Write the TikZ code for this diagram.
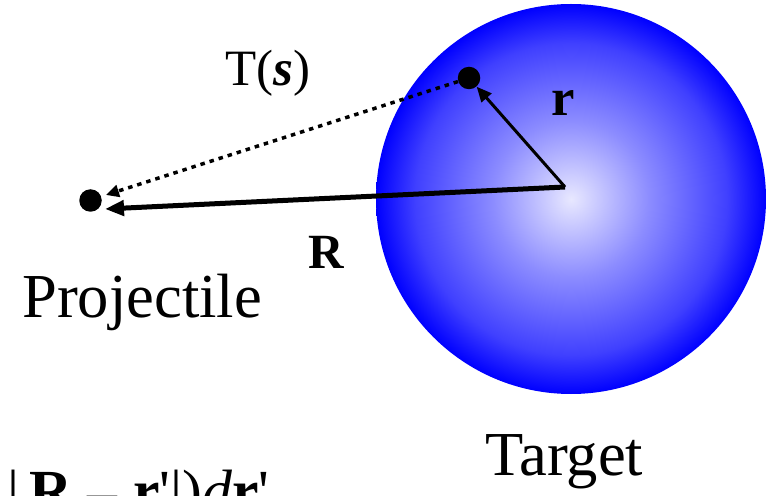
\documentclass[tikz,border=0pt]{standalone}
\usepackage{fontspec}
\setmainfont{Liberation Serif}
\usetikzlibrary{arrows.meta}
\pgfdeclareradialshading{targetball}{\pgfpoint{0bp}{0bp}}{color(0bp)=(blue!9); color(10bp)=(blue!45); color(20bp)=(blue!75); color(25bp)=(blue); color(50bp)=(blue)}
\tikzset{
  mass/.style={circle, fill=black, inner sep=0pt, minimum size=0.45cm},
  lbl/.style={inner sep=0pt, anchor=base west},
  bigfont/.style={font=\fontsize{35.6}{40}\selectfont},
  vecfont/.style={font=\fontsize{29}{32}\selectfont}
}
\begin{document}
\begin{tikzpicture}
\useasboundingbox (0,0) rectangle (15.34,9.9);
\shade[shading=targetball] (11.42,5.92) circle (3.9);
\node[mass] (proj) at (1.81,5.89) {};
\node[mass] (targ) at (9.38,8.34) {};
\coordinate (orig) at (11.30,6.16);
\coordinate (Rtip) at (2.10,5.72);
\coordinate (stip) at (2.12,6.00);
\draw[line width=0.07cm, dash pattern=on 0.09cm off 0.1cm, -{Triangle[length=0.26cm, width=0.24cm]}] (targ) -- (stip);
\draw[line width=0.1cm, -{Triangle[length=0.38cm, width=0.3cm]}] (orig) -- (Rtip);
\draw[line width=0.06cm, -{Triangle[length=0.3cm, width=0.26cm]}] (orig) -- (targ);
\node[lbl, vecfont] (tlab) at (4.50,8.18) {T(\textbf{\textit{s}})};
\node[lbl, font=\fontsize{30}{33}\selectfont\bfseries] (rlab) at (11.02,7.58) {r};
\node[lbl, font=\fontsize{28}{31}\selectfont\bfseries] (Rlab) at (6.16,4.54) {R};
\node[lbl, bigfont] (plab) at (0.44,3.56) {Projectile};
\node[lbl, bigfont] (tglab) at (9.70,0.40) {Target};
\node[lbl, font=\fontsize{34}{37}\selectfont] (form) at (0.14,-0.32) {|\,\textbf{R} – \textbf{r}\textquotesingle|)\textit{d}\textbf{r}\textquotesingle};
\end{tikzpicture}
\end{document}
